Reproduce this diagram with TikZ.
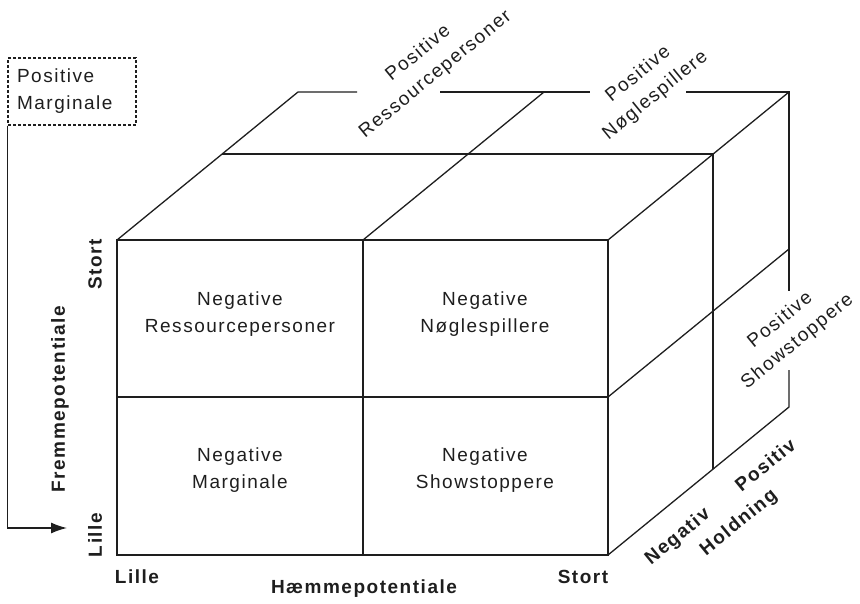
\documentclass[tikz,border=0pt]{standalone}
\usepackage{fontspec}
\setmainfont{Liberation Sans}[LetterSpace=8]
\usetikzlibrary{positioning, arrows.meta}
\definecolor{cubeLine}{RGB}{30, 30, 30}

\begin{document}
\begin{tikzpicture}[
        x=1pt, y=-1pt,
        font=\fontsize{19}{27}\selectfont,
        cell/.style={
            align=center, text=cubeLine, inner sep=0pt
        },
        axis/.style={
            font=\fontsize{19}{23}\selectfont\bfseries, text=cubeLine, inner sep=0pt
        },
        slant/.style={rotate=39.3},
        upright/.style={rotate=90},
        edge/.style={draw=cubeLine, line width=1.3pt},
        frontedge/.style={draw=cubeLine, line width=2.4pt},
        marginbox/.style={
            draw=cubeLine, dash pattern=on 3pt off 2pt, line width=1.1pt,
            text=cubeLine, align=left, text width=110pt, inner xsep=9pt,
            minimum height=67pt
        }
    ]
    \useasboundingbox (0,0) rectangle (860,604);

    % CUBE CORNERS
    \coordinate (f1) at (117,555);
    \coordinate (f2) at (608,555);
    \coordinate (f3) at (608,240);
    \coordinate (f4) at (117,240);
    \coordinate (b2) at (789,407);
    \coordinate (b3) at (789,92);
    \coordinate (b4) at (298,92);
    \coordinate (m2) at (713,469);
    \coordinate (m3) at (713,154);
    \coordinate (m4) at (222,154);

    % MIDDLE POINTS
    \coordinate (ft) at (363,240);
    \coordinate (fb) at (363,555);
    \coordinate (fl) at (117,397);
    \coordinate (fr) at (608,397);
    \coordinate (bt) at (544,92);
    \coordinate (br) at (789,249);

    % GAPS FOR THE LABELS
    \coordinate (g1) at (357,92);
    \coordinate (g2) at (440,92);
    \coordinate (g3) at (590,92);
    \coordinate (g4) at (686,92);
    \coordinate (g5) at (789,291);
    \coordinate (g6) at (789,370);

    % BACK EDGES
    \draw[edge] (f4) -- (b4) -- (g1);
    \draw[edge] (g2) -- (g3);
    \draw[edge] (g4) -- (b3) -- (g5);
    \draw[edge] (g6) -- (b2) -- (f2);
    \draw[edge] (f3) -- (b3);

    % INNER DIVISIONS
    \draw[edge] (ft) -- (bt);
    \draw[edge] (fr) -- (br);
    \draw[edge] (m4) -- (m3) -- (m2);
    \draw[edge] (ft) -- (fb);
    \draw[edge] (fl) -- (fr);

    % FRONT FACE
    \draw[frontedge] (f1) rectangle (f3);

    % FRONT CELLS
    \node[cell] (negres)  at (240,314) {Negative\\Ressourcepersoner};
    \node[cell] (negnog)  at (485,314) {Negative\\Nøglespillere};
    \node[cell] (negmar)  at (240,470) {Negative\\Marginale};
    \node[cell] (negshow) at (485,470) {Negative\\Showstoppere};

    % BACK CELLS
    \node[cell, slant] (posres)  at (427,64)  {Positive\\Ressourcepersoner};
    \node[cell, slant] (posnog)  at (647,85)  {Positive\\Nøglespillere};
    \node[cell, slant] (posshow) at (789,331) {Positive\\Showstoppere};

    % AXES
    \node[axis, upright] (stortv) at (95,264) {Stort};
    \node[axis, upright] (lillev) at (95,535) {Lille};
    \node[axis, upright] (fremme) at (60,399) {Fremmepotentiale};
    \node[axis] (lilleh) at (137,577) {Lille};
    \node[axis] (haemme) at (364,589) {Hæmmepotentiale};
    \node[axis] (storth) at (583,577) {Stort};
    \node[axis, slant] (negativ)  at (678,537) {Negativ};
    \node[axis, slant] (positiv)  at (765,465) {Positiv};
    \node[axis, slant] (holdning) at (739,523) {Holdning};

    % POSITIVE MARGINALE
    \node[marginbox] (marg) at (72,91.5) {Positive\\Marginale};
    \coordinate (margend) at (67,528);
    \draw[edge, -{Latex[length=16pt, width=11pt]}] (marg.south west) |- (margend);

\end{tikzpicture}
\end{document}
